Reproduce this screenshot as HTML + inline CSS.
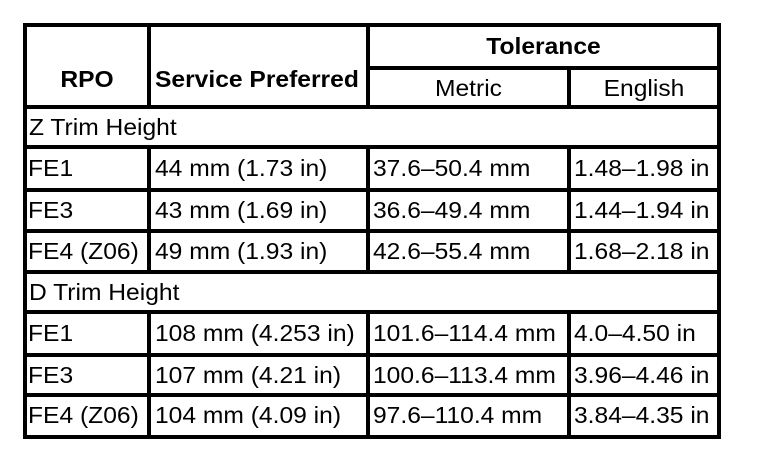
<!DOCTYPE html>
<html><head><style>
body{margin:0;width:768px;height:466px;background:#fff;position:relative;overflow:hidden;font-family:"Liberation Sans",Arial,sans-serif;color:#000}
.h,.v{position:absolute;background:#000}
.t{position:absolute;font-size:23px;line-height:23px;white-space:nowrap;transform:scaleX(1.07);transform-origin:left top}
.b{font-weight:bold}
.c{text-align:center;transform-origin:center top}
</style></head><body>
<div class="h" style="left:23px;top:23px;width:698px;height:4px"></div>
<div class="h" style="left:366px;top:66px;width:355px;height:4px"></div>
<div class="h" style="left:23px;top:105px;width:698px;height:4px"></div>
<div class="h" style="left:23px;top:145px;width:698px;height:4px"></div>
<div class="h" style="left:23px;top:188px;width:698px;height:4px"></div>
<div class="h" style="left:23px;top:229px;width:698px;height:4px"></div>
<div class="h" style="left:23px;top:270px;width:698px;height:4px"></div>
<div class="h" style="left:23px;top:310px;width:698px;height:4px"></div>
<div class="h" style="left:23px;top:353px;width:698px;height:4px"></div>
<div class="h" style="left:23px;top:393px;width:698px;height:4px"></div>
<div class="h" style="left:23px;top:435px;width:698px;height:4px"></div>
<div class="v" style="left:23px;top:23px;width:4px;height:416px"></div>
<div class="v" style="left:717px;top:23px;width:4px;height:416px"></div>
<div class="v" style="left:147px;top:23px;width:4px;height:86px"></div>
<div class="v" style="left:366px;top:23px;width:4px;height:86px"></div>
<div class="v" style="left:567px;top:66px;width:4px;height:43px"></div>
<div class="v" style="left:147px;top:145px;width:4px;height:129px"></div>
<div class="v" style="left:366px;top:145px;width:4px;height:129px"></div>
<div class="v" style="left:567px;top:145px;width:4px;height:129px"></div>
<div class="v" style="left:147px;top:310px;width:4px;height:129px"></div>
<div class="v" style="left:366px;top:310px;width:4px;height:129px"></div>
<div class="v" style="left:567px;top:310px;width:4px;height:129px"></div>
<div class="t b c" style="left:27px;width:120px;top:68px">RPO</div>
<div class="t b" style="left:155px;top:68px">Service Preferred</div>
<div class="t b c" style="left:370px;width:347px;top:35px">Tolerance</div>
<div class="t c" style="left:370px;width:197px;top:77px">Metric</div>
<div class="t c" style="left:571px;width:146px;top:77px">English</div>
<div class="t" style="left:29px;top:116px">Z Trim Height</div>
<div class="t" style="left:28px;top:157px">FE1</div>
<div class="t" style="left:155px;top:157px">44 mm (1.73 in)</div>
<div class="t" style="left:373px;top:157px">37.6–50.4 mm</div>
<div class="t" style="left:574px;top:157px">1.48–1.98 in</div>
<div class="t" style="left:28px;top:199px">FE3</div>
<div class="t" style="left:155px;top:199px">43 mm (1.69 in)</div>
<div class="t" style="left:373px;top:199px">36.6–49.4 mm</div>
<div class="t" style="left:574px;top:199px">1.44–1.94 in</div>
<div class="t" style="left:28px;top:240px">FE4 (Z06)</div>
<div class="t" style="left:155px;top:240px">49 mm (1.93 in)</div>
<div class="t" style="left:373px;top:240px">42.6–55.4 mm</div>
<div class="t" style="left:574px;top:240px">1.68–2.18 in</div>
<div class="t" style="left:29px;top:281px">D Trim Height</div>
<div class="t" style="left:28px;top:322px">FE1</div>
<div class="t" style="left:155px;top:322px">108 mm (4.253 in)</div>
<div class="t" style="left:373px;top:322px">101.6–114.4 mm</div>
<div class="t" style="left:574px;top:322px">4.0–4.50 in</div>
<div class="t" style="left:28px;top:364px">FE3</div>
<div class="t" style="left:155px;top:364px">107 mm (4.21 in)</div>
<div class="t" style="left:373px;top:364px">100.6–113.4 mm</div>
<div class="t" style="left:574px;top:364px">3.96–4.46 in</div>
<div class="t" style="left:28px;top:404px">FE4 (Z06)</div>
<div class="t" style="left:155px;top:404px">104 mm (4.09 in)</div>
<div class="t" style="left:373px;top:404px">97.6–110.4 mm</div>
<div class="t" style="left:574px;top:404px">3.84–4.35 in</div>
</body></html>
